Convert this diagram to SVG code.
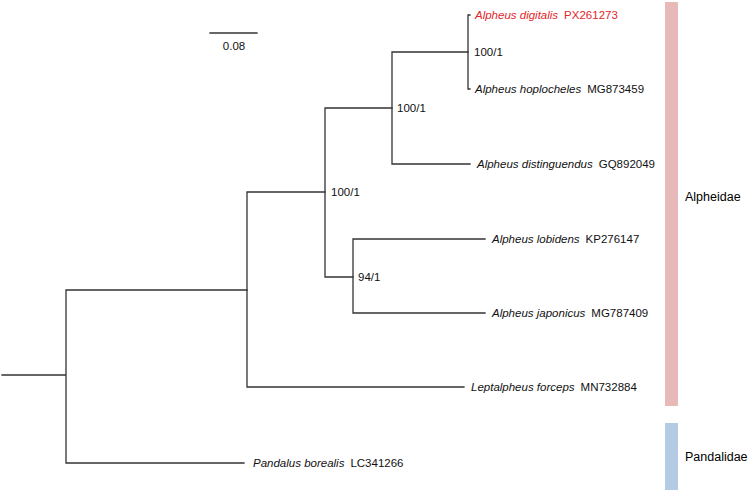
<svg xmlns="http://www.w3.org/2000/svg" width="750" height="492" viewBox="0 0 750 492">
<style>
.br{stroke:#333;stroke-width:1.3;fill:none;stroke-linecap:square}
text{font-family:"Liberation Sans",Arial,sans-serif;font-size:11.5px;fill:#111}
.sp{font-style:italic}
.red{fill:#e3262b}
.lab{font-size:12.5px;fill:#000}
</style>
<rect width="750" height="492" fill="#fff"/>
<g id="connectors">
<path class="br" d="M2,375H66M66,290V463M66,290H247M66,463H244"/>
<path class="br" d="M247,192V387M247,192H325M247,387H464"/>
<path class="br" d="M325,108V277M325,108H392M325,277H353"/>
<path class="br" d="M353,239V313M353,239H485M353,313H485"/>
<path class="br" d="M392,52V164M392,52H468M392,164H470"/>
<path class="br" d="M468,15V89M468,15H470M468,89H470"/>
</g>
<g id="scale"><path class="br" d="M210,33H257"/><text x="234" y="50" text-anchor="middle">0.08</text></g>
<g id="support">
<text x="474" y="56">100/1</text>
<text x="397" y="112">100/1</text>
<text x="331" y="196">100/1</text>
<text x="358" y="281">94/1</text>
</g>
<g id="t1"><text x="475" y="19" class="red"><tspan class="sp">Alpheus digitalis</tspan><tspan dx="6">PX261273</tspan></text></g>
<g id="t2"><text x="475" y="93"><tspan class="sp">Alpheus hoplocheles</tspan><tspan dx="6">MG873459</tspan></text></g>
<g id="t3"><text x="477" y="168"><tspan class="sp">Alpheus distinguendus</tspan><tspan dx="6">GQ892049</tspan></text></g>
<g id="t4"><text x="492" y="243"><tspan class="sp">Alpheus lobidens</tspan><tspan dx="6">KP276147</tspan></text></g>
<g id="t5"><text x="492" y="317"><tspan class="sp">Alpheus japonicus</tspan><tspan dx="6">MG787409</tspan></text></g>
<g id="t6"><text x="471" y="391"><tspan class="sp">Leptalpheus forceps</tspan><tspan dx="6">MN732884</tspan></text></g>
<g id="t7"><text x="253" y="467"><tspan class="sp">Pandalus borealis</tspan><tspan dx="6">LC341266</tspan></text></g>
<g id="alpheidae"><rect x="665" y="2" width="13" height="404" fill="#e8b9b9"/><text class="lab" x="685" y="201">Alpheidae</text></g>
<g id="pandalidae"><rect x="665" y="423" width="13" height="67" fill="#b5cbe5"/><text class="lab" x="685" y="461">Pandalidae</text></g>
</svg>
